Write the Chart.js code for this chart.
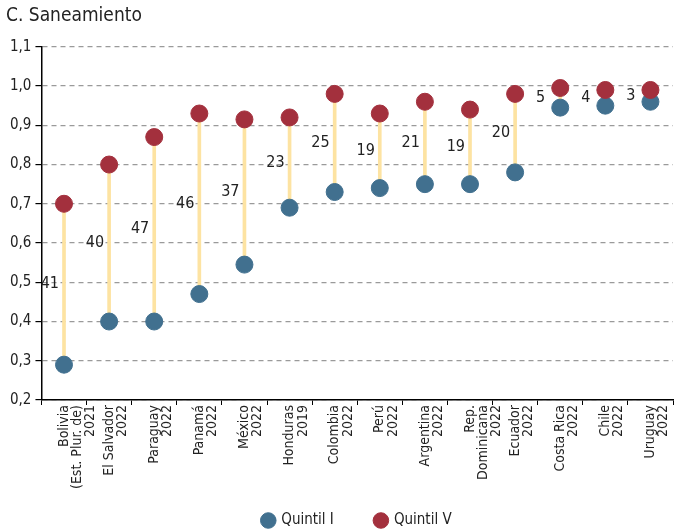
<!DOCTYPE html>
<html>
<head>
<meta charset="utf-8">
<script src="https://cdn.jsdelivr.net/npm/chart.js@4/dist/chart.umd.min.js"></script>
<style>
  body { margin: 0; background: #fff; }
  #wrap { width: 683px; height: 531px; position: relative; }
</style>
</head>
<body>
<div id="wrap"><canvas id="chart"></canvas></div>
<script>
// Países (multilínea para las etiquetas giradas)
const countries = [
  ["Bolivia", "(Est. Plur. de)", "2021"],
  ["El Salvador", "2022"],
  ["Paraguay", "2022"],
  ["Panamá", "2022"],
  ["México", "2022"],
  ["Honduras", "2019"],
  ["Colombia", "2022"],
  ["Perú", "2022"],
  ["Argentina", "2022"],
  ["Rep.", "Dominicana", "2022"],
  ["Ecuador", "2022"],
  ["Costa Rica", "2022"],
  ["Chile", "2022"],
  ["Uruguay", "2022"],
];
const quintil1 = [0.29, 0.40, 0.40, 0.47, 0.545, 0.69, 0.73, 0.74, 0.75, 0.75, 0.78, 0.945, 0.95, 0.96];
const quintil5 = [0.70, 0.80, 0.87, 0.93, 0.915, 0.92, 0.98, 0.93, 0.96, 0.94, 0.98, 0.995, 0.99, 0.99];
// brecha en puntos porcentuales
const gaps = [41, 40, 47, 46, 37, 23, 25, 19, 21, 19, 20, 5, 4, 3];
const yTicks = [0.2, 0.3, 0.4, 0.5, 0.6, 0.7, 0.8, 0.9, 1.0, 1.1];

const FONT = "'DejaVu Sans Condensed', 'Liberation Sans Narrow', sans-serif";
const BLUE = "#41708f";
const RED = "#a3303d";

// escribe la brecha a la izquierda de cada segmento
const gapLabels = {
  id: "gapLabels",
  afterDatasetsDraw(chart) {
    const { ctx, scales } = chart;
    ctx.save();
    ctx.font = "16px " + FONT;
    ctx.fillStyle = "#222";
    ctx.textAlign = "right";
    ctx.textBaseline = "middle";
    gaps.forEach((g, i) => {
      const x = scales.x.getPixelForValue(i);
      const mid = (quintil1[i] + quintil5[i]) / 2;
      const y = scales.y.getPixelForValue(mid);
      const off = g < 10 ? 15 : 5;
      ctx.fillText(String(g), x - off, y);
    });
    ctx.restore();
  },
};

new Chart(document.getElementById("chart"), {
  type: "bar",
  data: {
    labels: countries,
    datasets: [
      {
        label: "brecha",
        data: quintil1.map((v, i) => [v, quintil5[i]]),
        backgroundColor: "#fde3a2",
        barThickness: 3,
        order: 3,
      },
      {
        type: "line",
        label: "Quintil I",
        data: quintil1,
        showLine: false,
        pointRadius: 8.5,
        pointHoverRadius: 8.5,
        pointBackgroundColor: BLUE,
        pointBorderColor: BLUE,
        backgroundColor: BLUE,
        borderColor: BLUE,
        order: 2,
      },
      {
        type: "line",
        label: "Quintil V",
        data: quintil5,
        showLine: false,
        pointRadius: 8.5,
        pointHoverRadius: 8.5,
        pointBackgroundColor: RED,
        pointBorderColor: RED,
        backgroundColor: RED,
        borderColor: RED,
        order: 1,
      },
    ],
  },
  options: {
    responsive: true,
    maintainAspectRatio: false,
    animation: false,
    layout: { padding: { left: 6, right: 10, top: 0, bottom: -7 } },
    plugins: {
      title: {
        display: true,
        text: "C. Saneamiento",
        align: "start",
        color: "#222",
        font: { family: FONT, size: 19, weight: "normal" },
        padding: { top: 5, bottom: 19 },
      },
      legend: {
        position: "bottom",
        fullSize: false,
        labels: {
          filter: (item) => item.text !== "brecha",
          sort: (a, b) => a.datasetIndex - b.datasetIndex,
          generateLabels: (chart) =>
            Chart.defaults.plugins.legend.labels.generateLabels(chart).map((item) => {
              if (item.datasetIndex === 1) item.text = item.text + "         ";
              return item;
            }),
          usePointStyle: true,
          pointStyle: "circle",
          boxWidth: 11,
          boxHeight: 11,
          padding: 3,
          color: "#222",
          font: { family: FONT, size: 15 },
        },
      },
      tooltip: { enabled: false },
    },
    scales: {
      x: {
        afterFit: (axis) => {
          axis.height += 21;
        },
        grid: {
          offset: true,
          drawOnChartArea: false,
          drawTicks: true,
          tickLength: 5,
          color: "#000",
        },
        border: { color: "#000", width: 1.5 },
        ticks: {
          minRotation: 90,
          maxRotation: 90,
          autoSkip: false,
          color: "#222",
          padding: 0,
          font: { family: FONT, size: 14, lineHeight: 0.95 },
        },
      },
      y: {
        min: 0.2,
        max: 1.1,
        afterBuildTicks: (axis) => {
          axis.ticks = yTicks.map((v) => ({ value: v }));
        },
        grid: {
          color: "#9a9a9a",
          lineWidth: 1.2,
          tickLength: 6,
          tickColor: "#000",
          tickBorderDash: [],
        },
        border: { color: "#000", width: 1.5, dash: [5, 4] },
        ticks: {
          color: "#222",
          padding: 4,
          font: { family: FONT, size: 15 },
          callback: (v) => v.toFixed(1).replace(".", ","),
        },
      },
    },
  },
  plugins: [gapLabels],
});
</script>
</body>
</html>
